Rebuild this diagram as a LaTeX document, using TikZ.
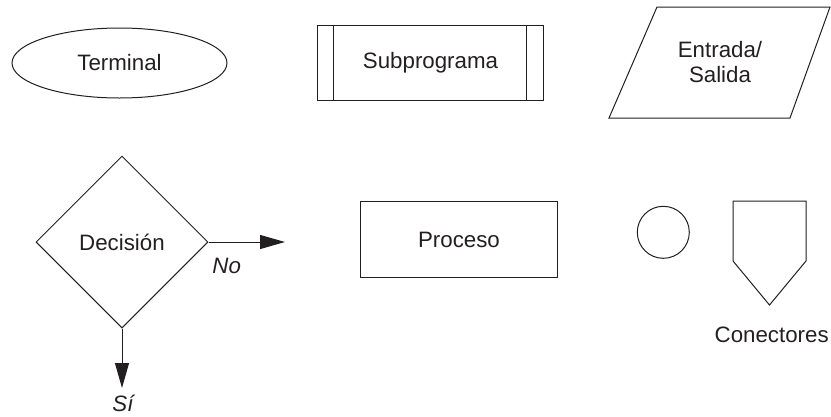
\documentclass[tikz,border=0pt]{standalone}
\usepackage{fontspec}
\setmainfont{Liberation Sans}
\usetikzlibrary{shapes.geometric,arrows.meta,calc}
\definecolor{ink}{RGB}{35,31,32}
\begin{document}
\begin{tikzpicture}[x=1pt,y=-1pt,
  every node/.style={font=\fontsize{22.3}{25}\selectfont, text=ink},
  shapeline/.style={draw=ink, line width=1pt},
  flow/.style={draw=ink, line width=1pt, -{Triangle[length=25pt,width=14pt]}},
  lbl/.style={font=\fontsize{22.3}{25}\selectfont\itshape},
]
\useasboundingbox (0,0) rectangle (831,416);

% Terminal
\node[shapeline, ellipse, minimum width=215pt, minimum height=70pt, inner sep=0pt] (term) at (119.5,63) {Terminal};

% Subprogram: box with two inner vertical bars
\node[shapeline, rectangle, minimum width=225.6pt, minimum height=75.7pt, inner sep=0pt] (sub) at (430.5,63) {Subprograma};
\draw[shapeline] ($(sub.north west)+(16.3,0)$) -- ($(sub.south west)+(16.3,0)$);
\draw[shapeline] ($(sub.north east)+(-17.3,0)$) -- ($(sub.south east)+(-17.3,0)$);

% Input/output parallelogram
\draw[shapeline] (657,7) -- (830,7) -- (790,118) -- (609,118) -- cycle;
\node[align=center] (io) at (720,62) {Entrada/\\Salida};

% Decision
\node[shapeline, diamond, minimum width=172pt, minimum height=172pt, inner sep=0pt] (dec) at (122,242) {Decisión};
\coordinate (noend) at (285,242);
\coordinate (siend) at (122,388);
\draw[flow] (dec.east) -- (noend);
\draw[flow] (dec.south) -- (siend);
\node[lbl] (no) at (226.7,266) {No};
\node[lbl, anchor=base] (si) at (123,411) {Sí};

% Process
\node[shapeline, rectangle, minimum width=196.6pt, minimum height=76pt, inner sep=0pt] (proc) at (459,239.7) {Proceso};

% Connectors
\node[shapeline, circle, minimum size=52pt, inner sep=0pt] (conn) at (663.3,232.3) {};
\draw[shapeline] (733,201) -- (806,201) -- (806,261) -- (769.5,305) -- (733,261) -- cycle;
\node[anchor=base] (cnlbl) at (771.7,342.7) {Conectores};
\end{tikzpicture}
\end{document}
